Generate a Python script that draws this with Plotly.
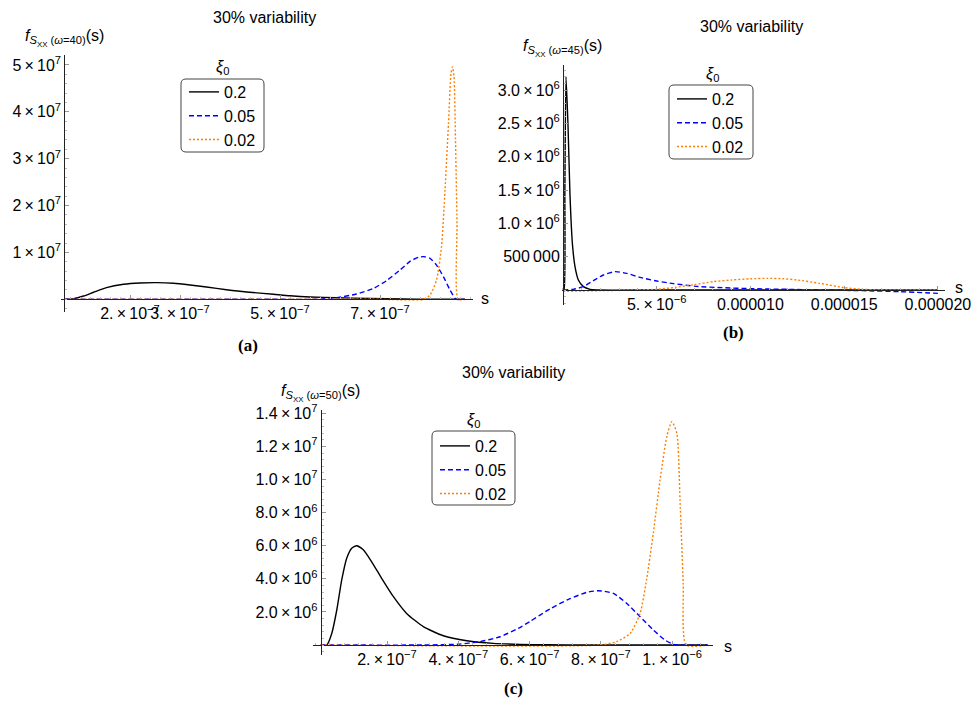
import plotly.graph_objects as go

# ---------------- data ----------------
series_names = ["0.2", "0.05", "0.02"]

# panel (a): omega = 40
a_black_x = [6.86e-8, 8.67e-8, 1.07e-7, 1.27e-7, 1.53e-7, 1.87e-7, 2.2e-7, 2.53e-7, 2.87e-7, 3.2e-7,
             3.53e-7, 3.93e-7, 4.33e-7, 4.87e-7, 5.2e-7, 5.6e-7, 6.13e-7, 6.8e-7, 7.47e-7, 8.0e-7, 8.7e-7]
a_black_y = [0, 0.13e6, 0.7e6, 1.5e6, 2.5e6, 3.2e6, 3.48e6, 3.55e6, 3.41e6, 3.05e6,
             2.62e6, 2.05e6, 1.56e6, 1.07e6, 0.75e6, 0.5e6, 0.33e6, 0.18e6, 0.07e6, 0.02e6, 0]
a_blue_x = [6.86e-8, 3e-7, 5.0e-7, 5.67e-7, 6.13e-7, 6.53e-7, 6.87e-7, 7.13e-7, 7.4e-7, 7.6e-7, 7.77e-7,
            7.87e-7, 8.0e-7, 8.13e-7, 8.27e-7, 8.4e-7, 8.5e-7, 8.53e-7, 8.7e-7]
a_blue_y = [0, 0, 0, 0, 0.35e6, 1.13e6, 2.34e6, 3.97e6, 6.25e6, 8.1e6, 8.96e6,
            9.1e6, 8.75e6, 7.3e6, 4.8e6, 1.98e6, 0.2e6, 0, 0]
a_orange_x = [6.86e-8, 4e-7, 7.0e-7, 7.87e-7, 8.0e-7, 8.13e-7, 8.23e-7, 8.3e-7, 8.37e-7, 8.42e-7, 8.45e-7,
              8.48e-7, 8.51e-7, 8.54e-7, 8.56e-7, 8.7e-7]
a_orange_y = [0, 0, 0, 0, 0.9e6, 4.1e6, 11.2e6, 23.3e6, 37.6e6, 48.2e6, 49.6e6,
              47.5e6, 34e6, 16.2e6, 0, 0]

# panel (b): omega = 45
b_black_x = [0, 5.3e-8, 1.0e-7, 1.6e-7, 2.7e-7, 3.7e-7, 5.0e-7, 6.4e-7, 8.2e-7, 1.09e-6, 1.44e-6,
             1.8e-6, 5e-6, 1e-5, 1.5e-5, 2.0e-5]
b_black_y = [0, 0, 1.5e6, 3.2e6, 2.45e6, 1.45e6, 0.7e6, 0.35e6, 0.15e6, 0.05e6, 0.01e6,
             0, 0, 0, 0, 0]
b_blue_x = [0, 5.5e-7, 1.08e-6, 1.62e-6, 2.15e-6, 2.77e-6, 3.4e-6, 4.1e-6, 5.0e-6, 5.9e-6, 7.1e-6,
            8.5e-6, 1.0e-5, 1.2e-5, 1.4e-5, 1.6e-5, 1.8e-5, 2.0e-5]
b_blue_y = [0, 0.01e6, 0.05e6, 0.14e6, 0.225e6, 0.275e6, 0.25e6, 0.19e6, 0.135e6, 0.095e6, 0.055e6,
            0.035e6, 0.02e6, 0.01e6, 0, -0.01e6, -0.025e6, -0.05e6]
b_orange_x = [0, 1e-6, 2e-6, 3e-6, 4e-6, 5e-6, 6e-6, 7e-6, 8e-6, 9e-6, 1.0e-5, 1.09e-5, 1.17e-5,
              1.25e-5, 1.37e-5, 1.5e-5, 1.6e-5, 1.7e-5, 2.0e-5]
b_orange_y = [-0.02e6, -0.015e6, -0.01e6, -0.005e6, 0.0, 0.01e6, 0.04e6, 0.08e6, 0.125e6, 0.15e6,
              0.168e6, 0.175e6, 0.17e6, 0.15e6, 0.1e6, 0.035e6, 0.01e6, 0, 0]

# panel (c): omega = 50
c_black_x = [1.4e-8, 3.1e-8, 4.5e-8, 5.9e-8, 7.3e-8, 8.7e-8, 1.01e-7, 1.15e-7, 1.34e-7, 1.57e-7, 1.85e-7,
             2.18e-7, 2.55e-7, 3.02e-7, 3.58e-7, 4.24e-7, 4.98e-7, 5.73e-7, 6.5e-7, 7.5e-7, 1.1e-6]
c_black_y = [0, 0, 0.7e6, 2.1e6, 3.93e6, 5.24e6, 5.84e6, 6.0e6, 5.74e6, 5.03e6, 4.03e6,
             2.92e6, 1.91e6, 1.11e6, 0.56e6, 0.26e6, 0.10e6, 0.04e6, 0.015e6, 0, 0]
c_blue_x = [1.4e-8, 3e-7, 4.0e-7, 4.6e-7, 5.17e-7, 5.68e-7, 6.01e-7, 6.57e-7, 7.13e-7, 7.6e-7, 7.93e-7,
            8.35e-7, 8.72e-7, 9.1e-7, 9.47e-7, 9.8e-7, 1.003e-6, 1.02e-6, 1.1e-6]
c_blue_y = [0, 0, 0.05e6, 0.2e6, 0.5e6, 1.0e6, 1.42e6, 2.18e6, 2.8e6, 3.18e6, 3.28e6,
            3.12e6, 2.52e6, 1.71e6, 0.91e6, 0.30e6, 0.04e6, 0, 0]
c_orange_x = [1.4e-8, 7.97e-7, 8.44e-7, 8.82e-7, 9.1e-7, 9.28e-7, 9.47e-7, 9.66e-7, 9.85e-7, 9.99e-7,
              1.013e-6, 1.022e-6, 1.031e-6, 1.039e-6, 1.1e-6]
c_orange_y = [0, 0, 0.2e6, 0.7e6, 1.91e6, 3.93e6, 6.75e6, 9.97e6, 12.6e6, 13.5e6,
              12.8e6, 8.76e6, 3.73e6, 0, 0]

# tick values / labels
TS = "\u2009"
a_xtickvals = [2e-7, 3e-7, 5e-7, 7e-7]
a_xticktext = [f"{m}.{TS}×{TS}10<sup>−7</sup>" for m in (2, 3, 5, 7)]
a_ytickvals = [1e7, 2e7, 3e7, 4e7, 5e7]
a_yticktext = [f"{m}{TS}×{TS}10<sup>7</sup>" for m in (1, 2, 3, 4, 5)]

b_xtickvals = [5e-6, 1e-5, 1.5e-5, 2e-5]
b_xticktext = [f"5.{TS}×{TS}10<sup>−6</sup>", "0.000010", "0.000015", "0.000020"]
b_ytickvals = [5e5, 1e6, 1.5e6, 2e6, 2.5e6, 3e6]
b_yticktext = ["500\u2009000"] + [f"{m}{TS}×{TS}10<sup>6</sup>" for m in ("1.0", "1.5", "2.0", "2.5", "3.0")]

c_xtickvals = [2e-7, 4e-7, 6e-7, 8e-7, 1e-6]
c_xticktext = [f"{m}.{TS}×{TS}10<sup>−7</sup>" for m in (2, 4, 6, 8)] + [f"1.{TS}×{TS}10<sup>−6</sup>"]
c_ytickvals = [2e6, 4e6, 6e6, 8e6, 1e7, 1.2e7, 1.4e7]
c_yticktext = [f"{m}{TS}×{TS}10<sup>6</sup>" for m in ("2.0", "4.0", "6.0", "8.0")] + \
              [f"{m}{TS}×{TS}10<sup>7</sup>" for m in ("1.0", "1.2", "1.4")]

# ---------------- layout helpers ----------------
W, H = 973, 703
FONT = "Liberation Sans, Arial, sans-serif"
COLORS = ["#000000", "#0000ff", "#ff8000"]
DASHES = ["solid", "5px,3px", "2px,2px"]


def fx(p):
    return p / W


def fy(p):
    return 1 - p / H


# geometry per panel: x-axis pixel span, y-axis pixel span, data ranges, y-axis crossing
panels = [
    dict(xpx=(60.7, 473.3), ypx=(311.7, 55), xr=(6.14e-8, 8.866e-7), yr=(-2.646e6, 5.213e7), xc=6.86e-8,
         xt=(a_xtickvals, a_xticktext), yt=(a_ytickvals, a_yticktext), ymin=2e6, xmin=2e-8,
         data=[(a_black_x, a_black_y), (a_blue_x, a_blue_y), (a_orange_x, a_orange_y)]),
    dict(xpx=(561.7, 945), ypx=(305, 65), xr=(-6.9e-8, 2.038e-5), yr=(-2.25e5, 3.375e6), xc=0,
         xt=(b_xtickvals, b_xticktext), yt=(b_ytickvals, b_yticktext), ymin=1e5, xmin=1e-6,
         data=[(b_black_x, b_black_y), (b_blue_x, b_blue_y), (b_orange_x, b_orange_y)]),
    dict(xpx=(313, 713), ypx=(655, 410), xr=(-7.6e-9, 1.1145e-6), yr=(-6.04e5, 1.42e7), xc=1.4e-8,
         xt=(c_xtickvals, c_xticktext), yt=(c_ytickvals, c_yticktext), ymin=4e5, xmin=4e-8,
         data=[(c_black_x, c_black_y), (c_blue_x, c_blue_y), (c_orange_x, c_orange_y)]),
]

fig = go.Figure()
layout = dict(width=W, height=H, margin=dict(l=0, r=0, t=0, b=0, autoexpand=False), paper_bgcolor="white",
              plot_bgcolor="white", font=dict(family=FONT, size=16, color="#000"), showlegend=True)
legend_names = ["legend", "legend2", "legend3"]

for i, p in enumerate(panels):
    k = "" if i == 0 else str(i + 1)
    xd = [fx(p["xpx"][0]), fx(p["xpx"][1])]
    yd = [fy(p["ypx"][0]), fy(p["ypx"][1])]
    xlo, xhi = p["xr"]
    ylo, yhi = p["yr"]
    ypos = yd[0] + (0 - ylo) / (yhi - ylo) * (yd[1] - yd[0])
    xpos = xd[0] + (p["xc"] - xlo) / (xhi - xlo) * (xd[1] - xd[0])
    layout["xaxis" + k] = dict(domain=xd, range=[xlo, xhi], anchor="free", position=ypos,
                               automargin=False,
                               showline=True, linecolor="#222", linewidth=1, showgrid=False,
                               zeroline=False, ticks="inside", ticklen=4, tickcolor="#999",
                               tickmode="array", tickvals=p["xt"][0], ticktext=p["xt"][1],
                               tickangle=0, tickfont=dict(size=16, family=FONT),
                               minor=dict(ticks="inside", ticklen=2, tickcolor="#bbb", dtick=p["xmin"], tick0=0))
    layout["yaxis" + k] = dict(domain=yd, range=[ylo, yhi], anchor="free", position=xpos,
                               automargin=False,
                               showline=True, linecolor="#222", linewidth=1, showgrid=False,
                               zeroline=False, ticks="inside", ticklen=4, tickcolor="#999",
                               tickmode="array", tickvals=p["yt"][0], ticktext=p["yt"][1],
                               tickfont=dict(size=16, family=FONT),
                               minor=dict(ticks="inside", ticklen=2, tickcolor="#bbb", dtick=p["ymin"], tick0=0))
    for j, (xs, ys) in enumerate(p["data"]):
        fig.add_trace(go.Scatter(x=xs, y=ys, mode="lines", name=series_names[j],
                                 xaxis="x" + k, yaxis="y" + k, legend=legend_names[i],
                                 line=dict(color=COLORS[j], width=1.4, dash=DASHES[j],
                                           shape="spline", smoothing=0.6),
                                 hoverinfo="skip"))

# legends: (left px, top px)
leg_pos = [(184, 75), (672, 82), (435, 429)]
for i, (lx, ly) in enumerate(leg_pos):
    layout[legend_names[i]] = dict(x=fx(lx), y=fy(ly), xanchor="left", yanchor="top",
                                   bgcolor="rgba(0,0,0,0)", borderwidth=0, itemwidth=30,
                                   font=dict(size=16, family=FONT), tracegroupgap=0)


def rrect(x0, y0, x1, y1, r=5):
    pts = [("M", x0 + r, y0), ("L", x1 - r, y0), ("Q", x1, y0, x1, y0 + r), ("L", x1, y1 - r),
           ("Q", x1, y1, x1 - r, y1), ("L", x0 + r, y1), ("Q", x0, y1, x0, y1 - r), ("L", x0, y0 + r),
           ("Q", x0, y0, x0 + r, y0)]
    s = ""
    for t in pts:
        c = t[0]
        coords = t[1:]
        parts = []
        for q in range(0, len(coords), 2):
            parts.append(f"{fx(coords[q]):.5f},{fy(coords[q + 1]):.5f}")
        s += c + " " + " ".join(parts) + " "
    return s + "Z"


boxes = [(181, 79, 264, 152), (669, 85, 753, 159), (432, 431, 515, 505)]
shapes = []
for b in boxes:
    shapes.append(dict(type="path", xref="paper", yref="paper", path=rrect(*b),
                       line=dict(color="#444", width=1), fillcolor="rgba(0,0,0,0)"))
layout["shapes"] = shapes

ann = []


def add_text(text, x, y, size=16, xanchor="center", family=FONT):
    ann.append(dict(text=text, x=fx(x), y=fy(y), xref="paper", yref="paper", showarrow=False,
                    xanchor=xanchor, yanchor="middle", font=dict(size=size, family=family, color="#000")))


for (tx, ty) in [(264, 17), (751, 27), (513, 372)]:
    add_text("30% variability", tx, ty)
for (tx, ty, w) in [(64, 38, 40), (562, 48, 45), (320, 393, 50)]:
    add_text(f"<i>f</i><sub><i>S</i><sub>XX</sub> (<i>ω</i>={w})</sub>(s)", tx, ty)
for (tx, ty) in [(222, 68), (712, 74), (473, 420)]:
    add_text("<i>ξ</i><sub>0</sub>", tx, ty)
add_text("s", 479, 298, xanchor="left")
add_text("s", 953, 287, xanchor="left")
add_text("s", 722, 646, xanchor="left")
for (t, tx, ty) in [("(a)", 248, 345), ("(b)", 733, 332), ("(c)", 513, 688)]:
    add_text(f"<b>{t}</b>", tx, ty, size=17, family="Liberation Serif, Times New Roman, serif")
layout["annotations"] = ann

fig.update_layout(**layout)
fig.write_html("out.html")
